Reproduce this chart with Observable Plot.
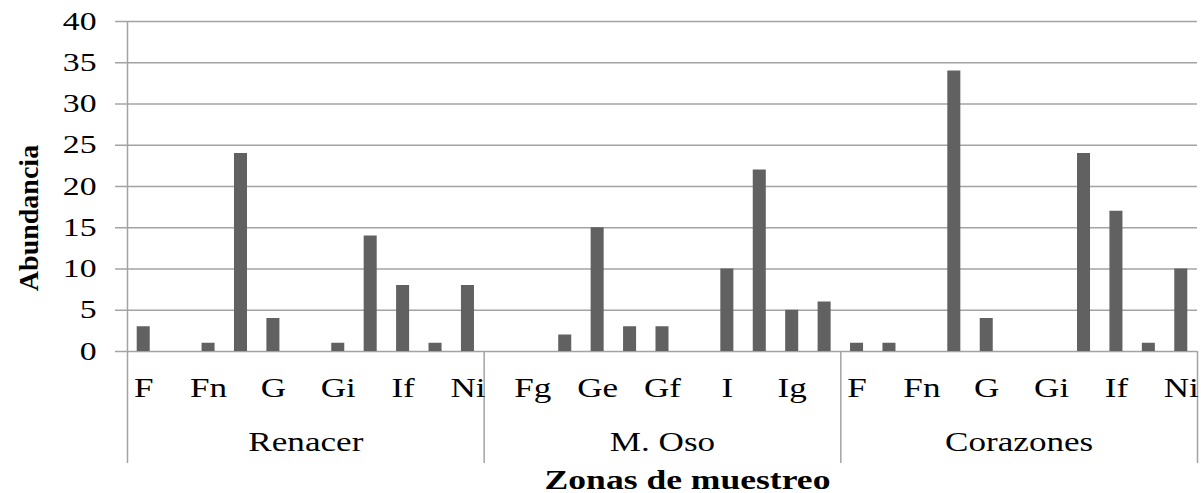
<!DOCTYPE html>
<html>
<head>
<meta charset="utf-8">
<script src="https://cdn.jsdelivr.net/npm/d3@7"></script>
<script src="https://cdn.jsdelivr.net/npm/@observablehq/plot@0.6"></script>
<style>
  html, body { margin: 0; padding: 0; background: #fff; }
</style>
</head>
<body>
<script>
// ---- data ----
const zones = ["Renacer", "M. Oso", "Corazones"];
const codes = ["F", "Fg", "Fn", "Ge", "G", "Gf", "Gi", "I", "If", "Ig", "Ni"];
const renacer   = [3, 0, 1, 24, 4, 0, 1, 14, 8, 1, 8];
const mOso      = [0, 0, 2, 15, 3, 3, 0, 10, 22, 5, 6];
const corazones = [1, 1, 0, 34, 4, 0, 0, 24, 17, 1, 10];
const yTicks = [0, 5, 10, 15, 20, 25, 30, 35, 40];
const yTitle = "Abundancia";
const xTitle = "Zonas de muestreo";

// ---- table built from the arrays ----
const seriesByZone = [renacer, mOso, corazones];
const keyOf = (z, c) => z + "|" + c;
const keys = zones.flatMap(z => codes.map(c => keyOf(z, c)));
const rows = zones.flatMap((z, zi) => codes.map((c, ci) => ({key: keyOf(z, c), zone: z, code: c, value: seriesByZone[zi][ci]})));

const W = 1201, H = 493;
const mL = 127, mR = 4, mT = 21, mB = 142;
const step = (W - mL - mR) / keys.length;
const below = 112; // separator extension below the axis (px)
const gridColor = "#a3a3a3";

const chart = Plot.plot({
  width: W,
  height: H,
  marginLeft: mL,
  marginRight: mR,
  marginTop: mT,
  marginBottom: mB,
  style: {fontFamily: "'Liberation Serif', 'Times New Roman', serif", fontSize: "26px", background: "#fff", color: "#000"},
  x: {type: "band", domain: keys, padding: 0, round: false},
  y: {domain: [0, 40]},
  marks: [
    Plot.ruleY(yTicks, {stroke: gridColor, strokeWidth: 1.5}),
    Plot.barY(rows, {x: "key", y: "value", fill: "#616161", insetLeft: 9.7, insetRight: 9.7}),
    // left axis line, extending through category rows
    Plot.ruleX([keys[0]], {dx: -step / 2, insetBottom: -below, stroke: gridColor, strokeWidth: 1.5}),
    // group separators
    Plot.ruleX(zones.slice(1).map(z => keyOf(z, codes[0])), {y1: 0, dx: -step / 2, insetBottom: -below, stroke: gridColor, strokeWidth: 1.5}),
    Plot.ruleX([keys[keys.length - 1]], {y1: 0, dx: step / 2, insetBottom: -below, stroke: gridColor, strokeWidth: 1.5}),
    Plot.axisY(yTicks, {tickSize: 12, tickPadding: 19, fontSize: 25, stroke: gridColor, strokeWidth: 1.5, fill: "#000", label: null, tickFormat: d => String(d)}),
    Plot.axisX(keys.filter((k, i) => i % 2 === 0), {tickSize: 0, tickPadding: 26.8, fontSize: 27, fill: "#000", label: null, tickFormat: k => k.split("|")[1]}),
    Plot.axisX(zones.map(z => keyOf(z, codes[5])), {tickSize: 0, tickPadding: 80.8, fontSize: 27, fill: "#000", label: null, tickFormat: k => k.split("|")[0]}),
    Plot.text([xTitle], {frameAnchor: "bottom", textAnchor: "middle", lineAnchor: "bottom", dx: 25, dy: 137, fontSize: 28, fontWeight: "bold", fill: "#000"}),
    Plot.text([yTitle], {frameAnchor: "left", textAnchor: "middle", lineAnchor: "bottom", rotate: -90, dx: -90, dy: 31.5, fontSize: 28, fontWeight: "bold", fill: "#000"})
  ]
});

document.body.append(chart);

// widen the serif text horizontally, as in the reference (not the rotated title)
chart.querySelectorAll("text").forEach(t => {
  const content = t.textContent;
  if (content === yTitle) return;
  const s = content === xTitle ? 1.27 : (yTicks.map(String).includes(content) ? 1.35 : 1.3);
  const L = t.getComputedTextLength();
  if (L > 0) {
    t.setAttribute("textLength", (L * s).toFixed(2));
    t.setAttribute("lengthAdjust", "spacingAndGlyphs");
  }
});
</script>
</body>
</html>
